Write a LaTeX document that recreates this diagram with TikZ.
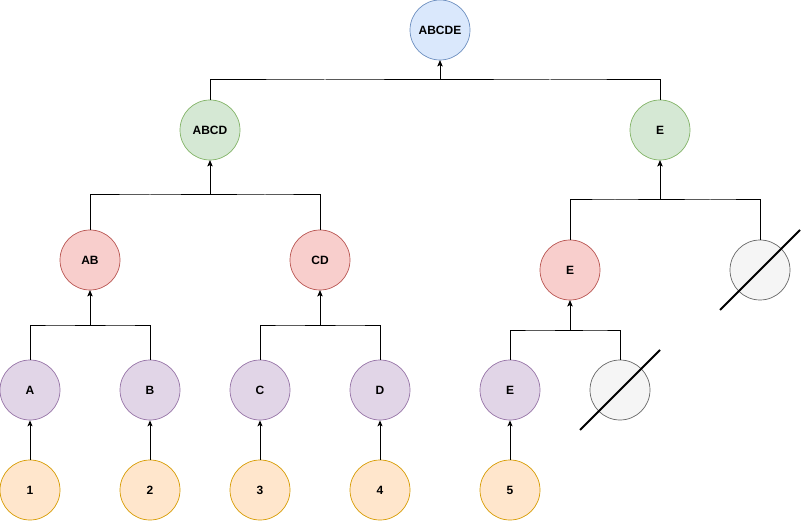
\documentclass[tikz,border=0pt]{standalone}
\usepackage{fontspec}
\setmainfont{Liberation Sans}
\usetikzlibrary{arrows.meta,calc}
\definecolor{blueF}{HTML}{DAE8FC}\definecolor{blueD}{HTML}{6C8EBF}
\definecolor{greenF}{HTML}{D5E8D4}\definecolor{greenD}{HTML}{82B366}
\definecolor{redF}{HTML}{F8CECC}\definecolor{redD}{HTML}{B85450}
\definecolor{purF}{HTML}{E1D5E7}\definecolor{purD}{HTML}{9673A6}
\definecolor{oraF}{HTML}{FFE6CC}\definecolor{oraD}{HTML}{D79B00}
\definecolor{grayF}{HTML}{F5F5F5}\definecolor{grayD}{HTML}{666666}
\tikzset{
  cnode/.style={circle,minimum size=60pt,inner sep=0pt,line width=0.7pt,
    font=\fontsize{12}{14}\selectfont\bfseries},
  bluen/.style={cnode,fill=blueF,draw=blueD},
  greenn/.style={cnode,fill=greenF,draw=greenD},
  redn/.style={cnode,fill=redF,draw=redD},
  purn/.style={cnode,fill=purF,draw=purD},
  oran/.style={cnode,fill=oraF,draw=oraD},
  grayn/.style={cnode,fill=grayF,draw=grayD},
  arr/.style={line width=1pt,-{Stealth[length=6pt,width=5pt,inset=1.5pt]}},
  crossline/.style={line width=1.8pt},
}
\begin{document}
\begin{tikzpicture}[x=1pt,y=-1pt]
\useasboundingbox (0,0) rectangle (803,521);
\node[bluen]  (ABCDE) at (440,30) {ABCDE};
\node[greenn] (ABCD) at (210,130) {ABCD};
\node[greenn] (E1) at (660,130) {E};
\node[redn] (AB) at (90,260) {AB};
\node[redn] (CD) at (320,260) {CD};
\node[redn] (E2) at (570,270) {E};
\node[grayn] (G1) at (760,270) {};
\node[purn] (A) at (30,390) {A};
\node[purn] (B) at (150,390) {B};
\node[purn] (C) at (260,390) {C};
\node[purn] (D) at (380,390) {D};
\node[purn] (E3) at (510,390) {E};
\node[grayn] (G2) at (620,390) {};
\node[oran] (n1) at (30,490) {1};
\node[oran] (n2) at (150,490) {2};
\node[oran] (n3) at (260,490) {3};
\node[oran] (n4) at (380,490) {4};
\node[oran] (n5) at (510,490) {5};
% tree connectors
\foreach \c/\p in {ABCD/ABCDE,E1/ABCDE,AB/ABCD,CD/ABCD,E2/E1,G1/E1,A/AB,B/AB,C/CD,D/CD,E3/E2,G2/E2}{
  \draw[arr] (\c.north) |- ($(\c.north)!.5!(\p.south)$) -| (\p.south);
}
\foreach \c/\p in {n1/A,n2/B,n3/C,n4/D,n5/E3}{
  \draw[arr] (\c.north) -- (\p.south);
}
% crosses
\coordinate (g1a) at ($(G1)+(-40,40)$);
\coordinate (g1b) at ($(G1)+(40,-40)$);
\coordinate (g2a) at ($(G2)+(-40,40)$);
\coordinate (g2b) at ($(G2)+(40,-40)$);
\draw[crossline] (g1a) -- (g1b);
\draw[crossline] (g2a) -- (g2b);
\end{tikzpicture}
\end{document}
